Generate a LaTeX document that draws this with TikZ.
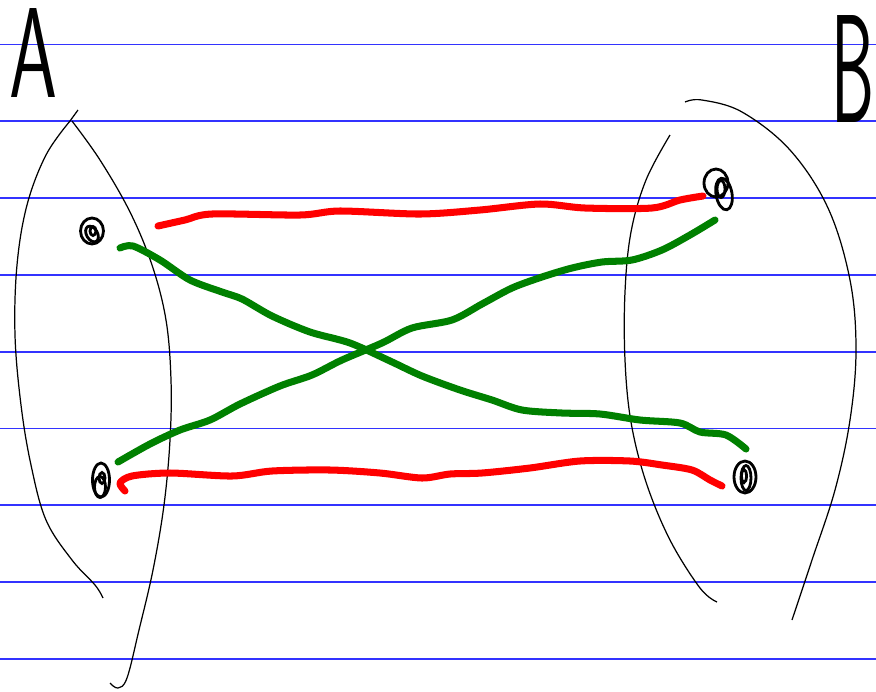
\documentclass[tikz,border=0pt]{standalone}
\usepackage{graphicx}
\usetikzlibrary{shapes.geometric}

\definecolor{ruleblue}{rgb}{0.2,0.2,1}

\tikzset{
    rule/.style={ruleblue, line width=1pt},
    hand/.style={black, line width=0.7pt},
    dot/.style={ellipse, draw, line width=1.6pt, inner sep=0pt},
    loop/.style={line width=1.6pt},
    redline/.style={red, line width=4pt, line cap=round, line join=round},
    greenline/.style={green!50!black, line width=4pt, line cap=round, line join=round},
    letter/.style={inner sep=0pt, anchor=south, font=\sffamily\fontsize{20}{20}\selectfont}
}

\begin{document}
\begin{tikzpicture}[x=0.02cm, y=-0.02cm]
        \useasboundingbox (0,0) rectangle (876,691);
        % lined paper
        \foreach \yy in {44.5,121.3,198.1,274.9,351.7,428.5,505.3,582.1,658.9}
            \draw[rule] (0,\yy) -- (876,\yy);

        % set names
        \node[letter] (na) at (33,98) {\resizebox{0.96cm}{1.78cm}{A}};
        \node[letter] (nb) at (853,123) {\resizebox{0.86cm}{2.14cm}{B}};

        % set A
        \draw[hand] (78,110) -- (70,121);
        \draw[hand] plot[smooth, tension=0.6] coordinates {(70,121) (46,155) (27,205) (17,265) (15,335) (21,405) (31,465) (46,520) (72,560) (95,585) (103,598)};
        \draw[hand] plot[smooth, tension=0.6] coordinates {(72,121) (100,160) (130,212) (152,265) (166,320) (171,380) (170,440) (164,505) (153,570) (139,630) (127,678) (118,688) (110,683)};

        % set B
        \draw[hand] plot[smooth, tension=0.6] coordinates {(685,102) (702,100) (742,112) (790,150) (828,208) (850,280) (856,350) (850,420) (835,490) (812,560) (792,620)};
        \draw[hand] plot[smooth, tension=0.6] coordinates {(670,135) (646,180) (631,232) (625,292) (625,360) (631,422) (646,482) (670,540) (700,588) (717,602)};

        % elements
        \node[dot, minimum width=0.46cm, minimum height=0.52cm] (a1) at (92,231) {};
        \draw[loop] (92,234) ellipse [x radius=0.11cm, y radius=0.17cm, rotate=30];
        \draw[loop] (93,231) ellipse [x radius=0.06cm, y radius=0.09cm];
        \node[dot, minimum width=0.34cm, minimum height=0.68cm] (a2) at (101,480) {};
        \draw[loop] (100,487) ellipse [x radius=0.11cm, y radius=0.21cm];
        \draw[loop] (102,478) ellipse [x radius=0.06cm, y radius=0.11cm];
        \node[dot, minimum width=0.48cm, minimum height=0.56cm] (b1) at (716,183) {};
        \draw[loop] (724,194) ellipse [x radius=0.16cm, y radius=0.32cm, rotate=10];
        \draw[loop] (721,189) ellipse [x radius=0.08cm, y radius=0.17cm];
        \node[dot, minimum width=0.44cm, minimum height=0.64cm] (b2) at (745,477) {};
        \draw[loop] (746,478) ellipse [x radius=0.1cm, y radius=0.25cm];
        \draw[loop] (744,476) ellipse [x radius=0.05cm, y radius=0.13cm];

        % ends of the strokes
        \coordinate (r1s) at (158,226);
        \coordinate (r1e) at (703,196);
        \coordinate (r2s) at (125,491);
        \coordinate (r2e) at (722,486);
        \coordinate (g1s) at (120,248);
        \coordinate (g1e) at (746,449);
        \coordinate (g2s) at (118,462);
        \coordinate (g2e) at (715,220);

        % maps
        \draw[redline] plot[smooth, tension=0.5] coordinates {(r1s) (185,220) (212,214) (300,215) (340,211) (420,214) (480,210) (540,204) (585,208) (652,208) (680,200) (r1e)};
        \draw[redline] plot[smooth, tension=0.5] coordinates {(r2s) (120,483) (132,476) (170,473) (232,476) (272,471) (330,470) (380,473) (422,478) (450,474) (482,473) (530,468) (580,461) (630,461) (662,465) (692,470) (710,480) (r2e)};
        \draw[greenline] plot[smooth, tension=0.5] coordinates {(g1s) (133,246) (160,260) (190,280) (222,292) (242,299) (272,316) (310,332) (350,343) (390,361) (422,376) (460,390) (492,400) (522,410) (562,413) (600,414) (640,420) (680,423) (700,432) (726,435) (g1e)};
        \draw[greenline] plot[smooth, tension=0.5] coordinates {(g2s) (150,444) (180,430) (210,420) (240,404) (280,386) (312,375) (342,360) (382,343) (412,328) (452,320) (482,304) (512,288) (542,277) (572,268) (602,262) (632,260) (662,250) (690,235) (g2e)};
        \end{tikzpicture}
\end{document}
